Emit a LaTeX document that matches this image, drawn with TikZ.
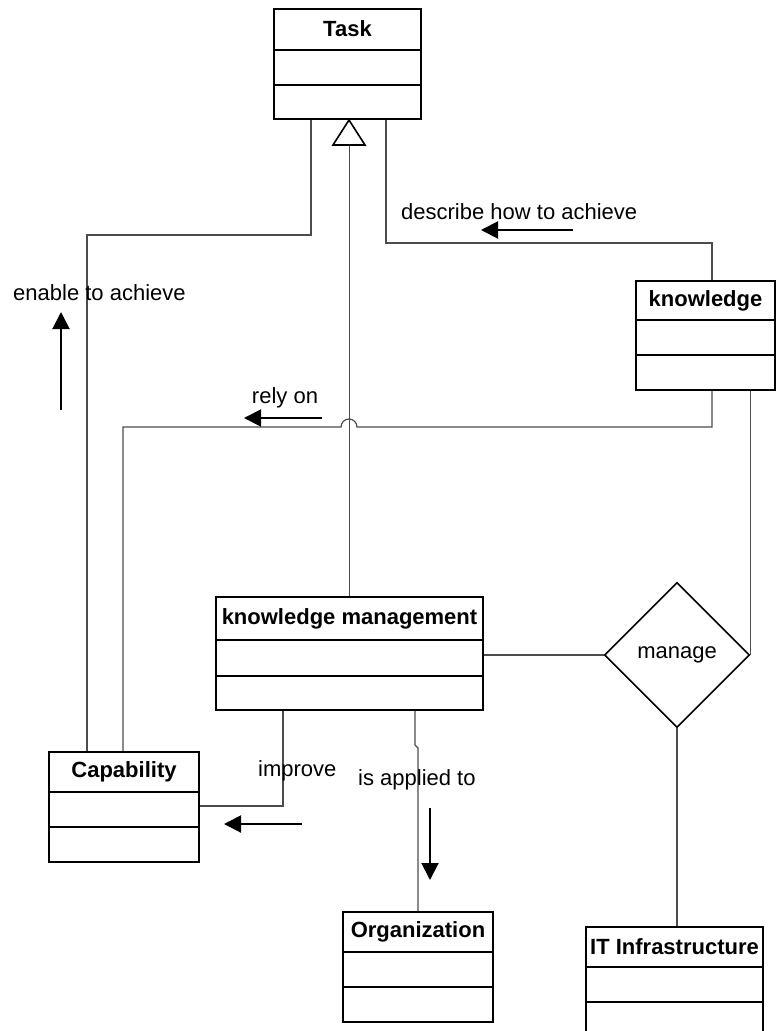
\documentclass[tikz,border=0pt]{standalone}
\usepackage{fontspec}
\setmainfont{Liberation Sans}
\usetikzlibrary{arrows.meta,shapes.geometric,calc}

\begin{document}
\begin{tikzpicture}[x=1pt,y=-1pt,
  box/.style={draw=black,line width=2pt,rectangle,inner sep=0pt,fill=white},
  divline/.style={draw=black,line width=2pt},
  title/.style={font=\fontsize{22}{26}\selectfont\bfseries,inner sep=0pt},
  lbl/.style={font=\fontsize{22}{26}\selectfont,inner sep=0pt},
  conn/.style={draw=black!70,line width=1.2pt},
  flow/.style={draw=black,line width=2pt,-{Triangle[length=17pt,width=17pt]}}]

\useasboundingbox (0,0) rectangle (776,1031);
\clip (0,0) rectangle (776,1031);

% ---------- class boxes ----------
\node[box,minimum width=147pt,minimum height=110pt] (task) at (347.5,64) {};
\node[title] (taskT) at (347.5,29) {Task};
\draw[divline] (task.west |- 0,50) -- (task.east |- 0,50);
\draw[divline] (task.west |- 0,85) -- (task.east |- 0,85);

\node[box,minimum width=139pt,minimum height=109pt] (know) at (705.5,335.5) {};
\node[title] (knowT) at (705.5,301) {knowledge};
\draw[divline] (know.west |- 0,320) -- (know.east |- 0,320);
\draw[divline] (know.west |- 0,355) -- (know.east |- 0,355);

\node[box,minimum width=267pt,minimum height=113pt] (km) at (349.5,653.5) {};
\node[title] (kmT) at (349.5,619) {knowledge management};
\draw[divline] (km.west |- 0,640) -- (km.east |- 0,640);
\draw[divline] (km.west |- 0,676) -- (km.east |- 0,676);

\node[box,minimum width=150pt,minimum height=110pt] (cap) at (124,807) {};
\node[title] (capT) at (124,772) {Capability};
\draw[divline] (cap.west |- 0,792) -- (cap.east |- 0,792);
\draw[divline] (cap.west |- 0,827) -- (cap.east |- 0,827);

\node[box,minimum width=150pt,minimum height=110pt] (org) at (418,967) {};
\node[title] (orgT) at (418,932) {Organization};
\draw[divline] (org.west |- 0,952) -- (org.east |- 0,952);
\draw[divline] (org.west |- 0,987) -- (org.east |- 0,987);

\node[box,minimum width=177pt,minimum height=110pt] (it) at (674.5,982) {};
\node[title] (itT) at (674.5,947) {IT Infrastructure};
\draw[divline] (it.west |- 0,967) -- (it.east |- 0,967);
\draw[divline] (it.west |- 0,1002) -- (it.east |- 0,1002);

% ---------- association diamond ----------
\node[diamond,draw=black,line width=1.6pt,minimum width=145pt,minimum height=145pt,
      inner sep=0pt,font=\fontsize{22}{26}\selectfont] (mgr) at (677,655) {manage};

% ---------- connectors ----------
\draw[conn] (task.south -| 311,0) |- (87,235) -- (cap.north -| 87,0);
\draw[conn] (task.south -| 386,0) |- (712,243) -- (know.north -| 712,0);
\draw[conn] (know.south -| 712,0) -- (712,427) -- (357,427)
      arc[start angle=0,end angle=180,radius=8pt] -- (123,427) -- (cap.north -| 123,0);
\draw[conn] (know.south -| mgr.east) -- (mgr.east);
\draw[conn] (mgr.west -| km.east) -- (mgr.west);
\draw[conn] (mgr.south) -- (mgr.south |- it.north);
\draw[conn] (km.south -| 415,0) -- (415,745) -- (418,748) -- (org.north);
\draw[conn] (km.south -| 283,0) |- (cap.east |- 0,806);

% generalization to Task
\draw[conn] (km.north) -- (km.north |- 0,145);
\draw[draw=black,line width=1.6pt,fill=white] (349,120) -- (333,145) -- (365,145) -- cycle;

% ---------- labels and direction arrows ----------
\node[lbl,anchor=west] (l1) at (13,293) {enable to achieve};
\draw[flow] (61,410) -- (61,312);

\node[lbl,anchor=west] (l2) at (401,212) {describe how to achieve};
\draw[flow] (573,230) -- (481,230);

\node[lbl] (l3) at (285,398) {rely on};
\draw[flow] (322,418) -- (244,418);

\node[lbl,anchor=west] (l4) at (258,771) {improve};
\draw[flow] (302,824) -- (224,824);

\node[lbl,anchor=west] (l5) at (358,780) {is applied to};
\draw[flow] (430,808) -- (430,880);
\end{tikzpicture}
\end{document}
